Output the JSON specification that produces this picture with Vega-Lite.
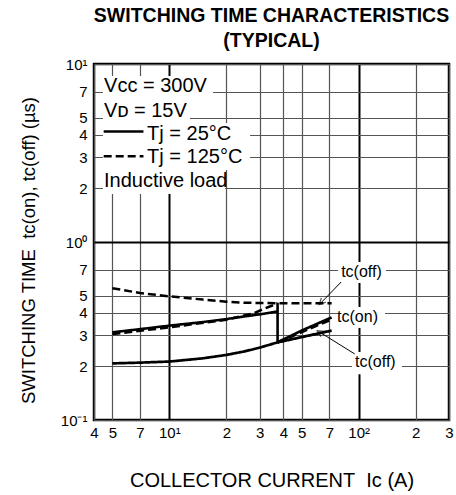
{
  "$schema": "https://vega.github.io/schema/vega-lite/v6.json",
  "autosize": "none",
  "width": 355,
  "height": 356,
  "padding": {"left": 94, "top": 64, "right": 7, "bottom": 75},
  "background": "white",
  "title": {
    "text": ["SWITCHING TIME CHARACTERISTICS", "(TYPICAL)"],
    "font": "Liberation Sans",
    "fontSize": 19.5,
    "fontWeight": "bold",
    "anchor": "middle",
    "lineHeight": 25,
    "offset": 6,
    "color": "black"
  },
  "config": {
    "view": {"stroke": "black", "strokeWidth": 2.5},
    "font": "Liberation Sans"
  },
  "datasets": {
    "curves": [
      {"ic": 5, "t": 0.55, "curve": "off125", "tj": "125°C"},
      {"ic": 7, "t": 0.517, "curve": "off125", "tj": "125°C"},
      {"ic": 10, "t": 0.495, "curve": "off125", "tj": "125°C"},
      {"ic": 15, "t": 0.475, "curve": "off125", "tj": "125°C"},
      {"ic": 20, "t": 0.462, "curve": "off125", "tj": "125°C"},
      {"ic": 25, "t": 0.456, "curve": "off125", "tj": "125°C"},
      {"ic": 30, "t": 0.454, "curve": "off125", "tj": "125°C"},
      {"ic": 40, "t": 0.453, "curve": "off125", "tj": "125°C"},
      {"ic": 72, "t": 0.453, "curve": "off125", "tj": "125°C"},
      {"ic": 5, "t": 0.311, "curve": "off25a", "tj": "25°C"},
      {"ic": 7, "t": 0.324, "curve": "off25a", "tj": "25°C"},
      {"ic": 10, "t": 0.339, "curve": "off25a", "tj": "25°C"},
      {"ic": 15, "t": 0.355, "curve": "off25a", "tj": "25°C"},
      {"ic": 20, "t": 0.369, "curve": "off25a", "tj": "25°C"},
      {"ic": 25, "t": 0.382, "curve": "off25a", "tj": "25°C"},
      {"ic": 30, "t": 0.392, "curve": "off25a", "tj": "25°C"},
      {"ic": 37, "t": 0.407, "curve": "off25a", "tj": "25°C"},
      {"ic": 37.3, "t": 0.455, "curve": "jump", "tj": "25°C"},
      {"ic": 37.3, "t": 0.273, "curve": "jump", "tj": "25°C"},
      {"ic": 5, "t": 0.304, "curve": "on125a", "tj": "125°C"},
      {"ic": 10, "t": 0.332, "curve": "on125a", "tj": "125°C"},
      {"ic": 20, "t": 0.366, "curve": "on125a", "tj": "125°C"},
      {"ic": 28, "t": 0.398, "curve": "on125a", "tj": "125°C"},
      {"ic": 31, "t": 0.418, "curve": "on125a", "tj": "125°C"},
      {"ic": 35, "t": 0.44, "curve": "on125a", "tj": "125°C"},
      {"ic": 37.3, "t": 0.453, "curve": "on125a", "tj": "125°C"},
      {"ic": 5, "t": 0.208, "curve": "on25", "tj": "25°C"},
      {"ic": 7, "t": 0.21, "curve": "on25", "tj": "25°C"},
      {"ic": 10, "t": 0.213, "curve": "on25", "tj": "25°C"},
      {"ic": 15, "t": 0.222, "curve": "on25", "tj": "25°C"},
      {"ic": 20, "t": 0.232, "curve": "on25", "tj": "25°C"},
      {"ic": 25, "t": 0.243, "curve": "on25", "tj": "25°C"},
      {"ic": 30, "t": 0.255, "curve": "on25", "tj": "25°C"},
      {"ic": 37.3, "t": 0.273, "curve": "on25", "tj": "25°C"},
      {"ic": 50, "t": 0.318, "curve": "on25", "tj": "25°C"},
      {"ic": 72, "t": 0.377, "curve": "on25", "tj": "25°C"},
      {"ic": 37.3, "t": 0.273, "curve": "on125b", "tj": "125°C"},
      {"ic": 72, "t": 0.368, "curve": "on125b", "tj": "125°C"},
      {"ic": 37.3, "t": 0.273, "curve": "off25b", "tj": "25°C"},
      {"ic": 72, "t": 0.318, "curve": "off25b", "tj": "25°C"}
    ],
    "samples": [
      {"x1": 4.5, "x2": 7.3, "t": 4.17, "tj": "25°C"},
      {"x1": 4.5, "x2": 7.3, "t": 3.03, "tj": "125°C"}
    ],
    "boxes": [
      {"x1": 4.46, "x2": 17.0, "y1": 8.57, "y2": 6.36},
      {"x1": 4.46, "x2": 12.85, "y1": 6.36, "y2": 4.66},
      {"x1": 4.46, "x2": 26.7, "y1": 4.66, "y2": 3.46},
      {"x1": 4.46, "x2": 26.7, "y1": 3.46, "y2": 2.54},
      {"x1": 4.46, "x2": 19.7, "y1": 2.54, "y2": 1.86},
      {"x1": 77.8, "x2": 139.5, "y1": 0.772, "y2": 0.588},
      {"x1": 76.9, "x2": 137.8, "y1": 0.431, "y2": 0.329},
      {"x1": 92.2, "x2": 169.4, "y1": 0.241, "y2": 0.181}
    ],
    "notes": [
      {"ic": 4.52, "t": 7.55, "label": "Vᴄᴄ = 300V", "size": "big"},
      {"ic": 4.52, "t": 5.46, "label": "Vᴅ = 15V", "size": "big"},
      {"ic": 7.63, "t": 4.04, "label": "Tj = 25°C", "size": "big"},
      {"ic": 7.63, "t": 2.99, "label": "Tj = 125°C", "size": "big"},
      {"ic": 4.52, "t": 2.21, "label": "Inductive load", "size": "big"},
      {"ic": 80.8, "t": 0.681, "label": "tc(off)", "size": "small"},
      {"ic": 76.9, "t": 0.377, "label": "tc(on)", "size": "small"},
      {"ic": 95.7, "t": 0.213, "label": "tc(off)", "size": "small"}
    ],
    "leaders": [
      {"id": "upper", "ic": 80.8, "t": 0.596, "ic2": 63.6, "t2": 0.458},
      {"id": "lower", "ic": 95.3, "t": 0.235, "ic2": 62.4, "t2": 0.311}
    ]
  },
  "layer": [
    {
      "data": {"name": "boxes"},
      "mark": {"type": "rect", "fill": "white"},
      "encoding": {
        "x": {
          "field": "x1", "type": "quantitative",
          "scale": {"type": "log", "domain": [4, 300], "nice": false},
          "axis": {
            "values": [4, 5, 7, 10, 20, 30, 40, 50, 70, 100, 200, 300],
            "labelExpr": "datum.value == 10 ? '10¹' : datum.value == 100 ? '10²' : datum.value > 100 ? format(datum.value / 100, 'd') : datum.value > 10 ? format(datum.value / 10, 'd') : format(datum.value, 'd')",
            "grid": true,
            "zindex": 0,
            "gridColor": {"condition": {"test": "datum.value == 10 || datum.value == 100", "value": "black"}, "value": "#555555"},
            "gridWidth": {"condition": {"test": "datum.value == 10 || datum.value == 100", "value": 2}, "value": 1.2},
            "ticks": false,
            "domain": false,
            "labelFont": "Liberation Sans",
            "labelFontSize": 15,
            "labelColor": "black",
            "labelPadding": 5,
            "labelFlush": false,
            "labelOverlap": false,
            "title": "COLLECTOR CURRENT\u00a0\u00a0Iᴄ (A)",
            "titleFont": "Liberation Sans",
            "titleFontSize": 20,
            "titleFontWeight": "normal",
            "titleColor": "black",
            "titleX": 177.5,
            "titleY": 60,
            "titleBaseline": "middle",
            "titleAlign": "center"
          }
        },
        "x2": {"field": "x2"},
        "y": {
          "field": "y1", "type": "quantitative",
          "scale": {"type": "log", "domain": [0.1, 10], "nice": false},
          "axis": {
            "values": [0.1, 0.2, 0.3, 0.4, 0.5, 0.7, 1, 2, 3, 4, 5, 7, 10],
            "labelExpr": "datum.value == 0.1 ? '10⁻¹' : datum.value == 1 ? '10⁰' : datum.value == 10 ? '10¹' : datum.value < 1 ? format(round(datum.value * 10), 'd') : format(datum.value, 'd')",
            "grid": true,
            "zindex": 0,
            "gridColor": {"condition": {"test": "datum.value == 1", "value": "black"}, "value": "#555555"},
            "gridWidth": {"condition": {"test": "datum.value == 1", "value": 2}, "value": 1.2},
            "ticks": false,
            "domain": false,
            "labelFont": "Liberation Sans",
            "labelFontSize": 15,
            "labelColor": "black",
            "labelPadding": 7,
            "labelFlush": false,
            "labelOverlap": false,
            "title": "SWITCHING TIME\u00a0\u00a0tc(on), tc(off) (µs)",
            "titleFont": "Liberation Sans",
            "titleFontSize": 18.5,
            "titleFontWeight": "normal",
            "titleColor": "black",
            "titleAngle": -90,
            "titleX": -66,
            "titleY": 186,
            "titleBaseline": "middle",
            "titleAlign": "center"
          }
        },
        "y2": {"field": "y2"}
      }
    },
    {
      "data": {"name": "notes"},
      "mark": {"type": "text", "align": "left", "baseline": "middle", "fill": "black", "font": "Liberation Sans"},
      "encoding": {
        "x": {"field": "ic", "type": "quantitative"},
        "y": {"field": "t", "type": "quantitative"},
        "text": {"field": "label"},
        "size": {"field": "size", "type": "nominal", "scale": {"domain": ["big", "small"], "range": [20, 16]}, "legend": null}
      }
    },
    {
      "data": {"name": "leaders"},
      "mark": {"type": "rule", "color": "black", "strokeWidth": 1},
      "encoding": {
        "x": {"field": "ic", "type": "quantitative"},
        "y": {"field": "t", "type": "quantitative"},
        "x2": {"field": "ic2"},
        "y2": {"field": "t2"}
      }
    },
    {
      "data": {"name": "leaders"},
      "transform": [{"filter": "datum.id == 'upper'"}],
      "mark": {"type": "point", "shape": "M-1,1L0,-1L1,1", "filled": false, "stroke": "black", "strokeWidth": 1.2, "size": 40, "angle": 224},
      "encoding": {
        "x": {"field": "ic2", "type": "quantitative"},
        "y": {"field": "t2", "type": "quantitative"}
      }
    },
    {
      "data": {"name": "leaders"},
      "transform": [{"filter": "datum.id == 'lower'"}],
      "mark": {"type": "point", "shape": "M-1,1L0,-1L1,1", "filled": false, "stroke": "black", "strokeWidth": 1.2, "size": 40, "angle": 302},
      "encoding": {
        "x": {"field": "ic2", "type": "quantitative"},
        "y": {"field": "t2", "type": "quantitative"}
      }
    },
    {
      "data": {"name": "samples"},
      "mark": {"type": "rule", "color": "black", "strokeWidth": 2.5},
      "encoding": {
        "x": {"field": "x1", "type": "quantitative"},
        "x2": {"field": "x2"},
        "y": {"field": "t", "type": "quantitative"},
        "strokeDash": {"field": "tj", "type": "nominal", "scale": {"domain": ["25°C", "125°C"], "range": [[1, 0], [8, 4]]}, "legend": null}
      }
    },
    {
      "data": {"name": "curves"},
      "mark": {"type": "line", "color": "black", "strokeCap": "butt"},
      "encoding": {
        "x": {"field": "ic", "type": "quantitative"},
        "y": {"field": "t", "type": "quantitative"},
        "detail": {"field": "curve"},
        "strokeDash": {"field": "tj", "type": "nominal", "scale": {"domain": ["25°C", "125°C"], "range": [[1, 0], [8, 4]]}, "legend": null},
        "strokeWidth": {"field": "curve", "type": "nominal", "scale": {"domain": ["off125", "off25a", "jump", "on125a", "on25", "on125b", "off25b"], "range": [2.5, 2.8, 2.5, 2.5, 2.8, 2.2, 1.5]}, "legend": null}
      }
    }
  ]
}
